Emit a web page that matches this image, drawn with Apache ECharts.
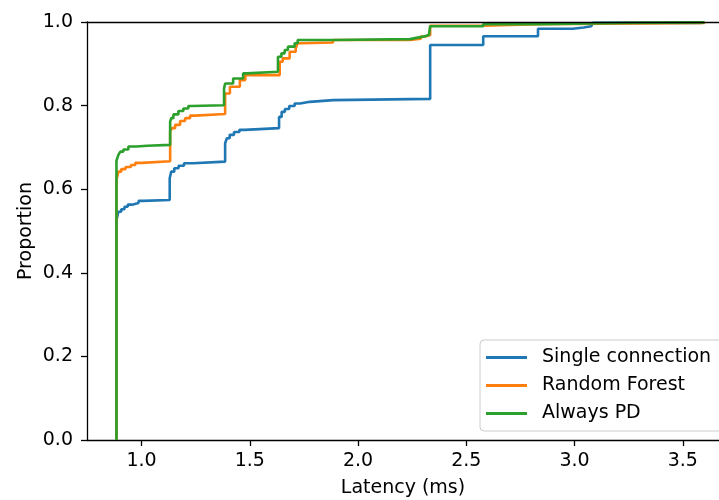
<!DOCTYPE html>
<html>
<head>
<meta charset="utf-8">
<script src="https://cdn.jsdelivr.net/npm/echarts@6/dist/echarts.min.js"></script>
<style>html,body{margin:0;padding:0;background:#fff}#c{width:719px;height:500px}</style>
</head>
<body>
<div id="c"></div>
<script>
const seriesNames = ['Single connection', 'Random Forest', 'Always PD'];
const seriesColors = ['#1f77b4', '#ff7f0e', '#2ca02c'];
const xTicks = [1.0, 1.5, 2.0, 2.5, 3.0, 3.5];
const yTicks = [0.0, 0.2, 0.4, 0.6, 0.8, 1.0];

const singleConnection = [
  [0.884,0],[0.884,0.526],[0.893,0.546],[0.906,0.552],[0.921,0.558],[0.936,0.563],[0.956,0.567],[0.986,0.572],[1.006,0.574],
  [1.130,0.626],[1.137,0.642],[1.151,0.650],[1.171,0.656],[1.196,0.662],[1.238,0.666],
  [1.386,0.710],[1.394,0.722],[1.407,0.730],[1.427,0.737],[1.452,0.742],[1.477,0.746],
  [1.635,0.773],[1.647,0.785],[1.662,0.792],[1.682,0.799],[1.707,0.805],[1.732,0.809],[1.777,0.813],
  [1.884,0.816],[2.333,0.945],[2.578,0.966],[2.831,0.984],[2.992,0.987],[3.042,0.990],[3.077,0.994],[3.084,0.998],[3.585,1.0]
];
const randomForest = [
  [0.884,0],[0.884,0.622],[0.893,0.642],[0.906,0.648],[0.926,0.653],[0.951,0.658],[0.971,0.663],[1.002,0.667],
  [1.132,0.738],[1.140,0.746],[1.155,0.754],[1.178,0.763],[1.201,0.770],[1.224,0.776],[1.247,0.780],
  [1.386,0.829],[1.408,0.845],[1.454,0.861],[1.479,0.873],
  [1.638,0.905],[1.652,0.913],[1.684,0.929],[1.712,0.937],[1.721,0.949],[1.736,0.951],
  [1.884,0.957],[2.240,0.960],[2.290,0.965],[2.310,0.969],[2.333,0.991],[2.578,0.995],[2.831,0.998],[3.600,1.0]
];
const alwaysPD = [
  [0.884,0],[0.884,0.668],[0.893,0.682],[0.902,0.690],[0.916,0.695],[0.939,0.702],[0.976,0.704],[1.026,0.706],
  [1.132,0.761],[1.137,0.770],[1.147,0.779],[1.170,0.787],[1.193,0.793],[1.216,0.799],[1.232,0.801],
  [1.381,0.841],[1.386,0.853],[1.423,0.865],[1.469,0.877],[1.486,0.881],
  [1.630,0.917],[1.646,0.925],[1.661,0.933],[1.676,0.941],[1.707,0.949],[1.721,0.957],
  [1.884,0.959],[2.240,0.962],[2.270,0.965],[2.300,0.969],[2.327,0.973],[2.333,0.990],[2.578,0.995],[2.831,0.998],[3.245,0.999],[3.600,1.0]
];
const seriesData = [singleConnection, randomForest, alwaysPD];

const FONT = 'DejaVu Sans';
const chart = echarts.init(document.getElementById('c'), null, {renderer: 'canvas'});
chart.setOption({
  animation: false,
  backgroundColor: '#ffffff',
  grid: {left: 87, right: 0, top: 22, bottom: 60, containLabel: false, outerBoundsMode: 'none'},
  xAxis: [{
    type: 'value', min: 0.748, max: 3.667, position: 'bottom',
    name: 'Latency (ms)', nameLocation: 'middle', nameGap: 39, nameMoveOverlap: false,
    nameTextStyle: {fontFamily: FONT, fontSize: 19, color: '#000'},
    axisLine: {show: true, onZero: false, lineStyle: {color: '#000', width: 1.3}},
    axisTick: {show: true, length: 6, lineStyle: {color: '#000', width: 1.3}, customValues: xTicks},
    axisLabel: {fontFamily: FONT, fontSize: 19, color: '#000', margin: 12, customValues: xTicks,
      formatter: v => v.toFixed(1)},
    splitLine: {show: false}
  }, {
    type: 'value', min: 0.748, max: 3.667, position: 'top', z: 10,
    axisLine: {show: true, onZero: false, lineStyle: {color: '#000', width: 1.3}},
    axisTick: {show: false}, axisLabel: {show: false}, splitLine: {show: false}
  }],
  yAxis: {
    type: 'value', min: 0, max: 1, interval: 0.2,
    name: 'Proportion', nameLocation: 'middle', nameGap: 51, nameMoveOverlap: false,
    nameTextStyle: {fontFamily: FONT, fontSize: 19, color: '#000'},
    axisLine: {show: true, onZero: false, lineStyle: {color: '#000', width: 1.3}},
    axisTick: {show: true, length: 6, lineStyle: {color: '#000', width: 1.3}, customValues: yTicks},
    axisLabel: {fontFamily: FONT, fontSize: 19, color: '#000', margin: 14, customValues: yTicks,
      formatter: v => v.toFixed(1)},
    splitLine: {show: false}
  },
  legend: {
    orient: 'vertical', left: 480, top: 340,
    data: seriesNames,
    icon: 'rect', itemWidth: 41, itemHeight: 3, itemGap: 9,
    padding: [8, 12, 8, 6],
    backgroundColor: 'rgba(255,255,255,0.8)', borderColor: '#cccccc', borderWidth: 1, borderRadius: 4,
    textStyle: {fontFamily: FONT, fontSize: 19, color: '#000', padding: [0, 0, 0, 10], lineHeight: 19}
  },
  series: seriesNames.map((n, i) => ({
    name: n, type: 'line', step: 'end', xAxisIndex: 0,
    data: seriesData[i], showSymbol: false, symbol: 'none',
    color: seriesColors[i],
    lineStyle: {color: seriesColors[i], width: 2.6},
    emphasis: {disabled: true}
  }))
});
</script>
</body>
</html>
